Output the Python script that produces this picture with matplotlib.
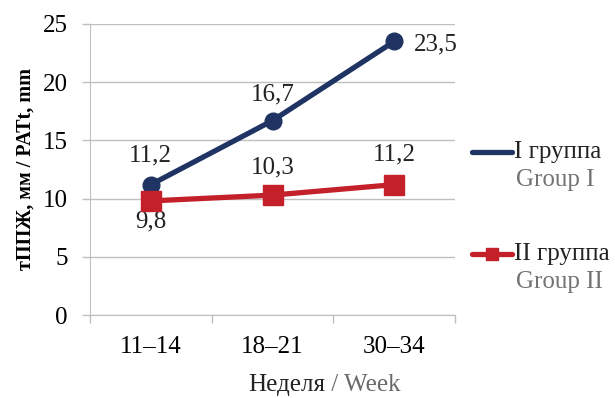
import matplotlib.pyplot as plt
from matplotlib.lines import Line2D

plt.rcParams['font.family'] = ['Liberation Serif', 'DejaVu Serif']

weeks = ["11–14", "18–21", "30–34"]
group1 = [11.2, 16.7, 23.5]
group2 = [9.8, 10.3, 11.2]
labels1 = ["11,2", "16,7", "23,5"]
labels2 = ["9,8", "10,3", "11,2"]

blue = '#1F3462'
red = '#C4202A'
grid = '#BFBFBF'
fs = 18

fig = plt.figure(figsize=(6.15, 3.98), dpi=100)
ax = fig.add_axes([90 / 615, 1 - 315 / 398, 365 / 615, 291 / 398])

x = list(range(len(weeks)))
ax.plot(x, group1, color=blue, lw=3.8, marker='o', ms=12, zorder=3)
ax.plot(x, group2, color=red, lw=3.8, marker='s', ms=14, zorder=4)

# data labels
offs1 = [(0, 21), (0, 19), (30, -2)]
for xi, yi, t, o in zip(x, group1, labels1, offs1):
    ax.annotate(t, (xi, yi), xytext=o, textcoords='offset points',
                ha='center', va='center', fontsize=fs, color='#222222')
offs2 = [(0, -15), (0, 20), (0, 22)]
for xi, yi, t, o in zip(x, group2, labels2, offs2):
    ax.annotate(t, (xi, yi), xytext=o, textcoords='offset points',
                ha='center', va='center', fontsize=fs, color='#222222')

ax.set_xlim(-0.5, 2.5)
ax.set_ylim(0, 25)
ax.set_yticks(range(0, 26, 5))
ax.yaxis.grid(True, color=grid, lw=1)
ax.set_axisbelow(True)
ax.set_xticks([-0.5, 0.5, 1.5, 2.5])
ax.set_xticklabels([])
ax.set_xticks(x, minor=True)
ax.set_xticklabels(weeks, minor=True)
ax.tick_params(axis='x', which='major', length=6, color=grid, width=1)
ax.tick_params(axis='x', which='minor', length=0, pad=15, labelsize=fs)
ax.tick_params(axis='y', length=6, color=grid, width=1, pad=10, labelsize=fs)
for s in ['top', 'right']:
    ax.spines[s].set_visible(False)
ax.spines['left'].set_color(grid)
ax.spines['bottom'].set_color(grid)

ax.set_ylabel("тППЖ, мм / PATt, mm", fontsize=14.5, fontweight='bold')
ax.yaxis.set_label_coords(-0.15, 0.5)

# x axis title in two colours
t = fig.text(248 / 615, 1 - 385 / 398, "Неделя", fontsize=fs, color='#222222',
             ha='left', va='center')
ax.annotate(" / Week", xy=(1, 0), xycoords=t, ha='left', va='bottom',
            fontsize=fs, color='#6A6A6A', annotation_clip=False)

# legend
leg = [(blue, 'o', "I группа", "Group I", 152), (red, 's', "II группа", "Group II", 254)]
for col, m, ru, en, yp in leg:
    fig.add_artist(Line2D([472 / 615, 512 / 615], [1 - yp / 398] * 2, color=col,
                          lw=3.8, solid_capstyle='round', transform=fig.transFigure))
    if m == 's':
        fig.add_artist(Line2D([492 / 615], [1 - yp / 398], color=col, marker='s',
                              ms=9, transform=fig.transFigure))
    fig.text(514 / 615, 1 - yp / 398, ru, fontsize=fs, color='#222222',
             ha='left', va='center')
    fig.text(516 / 615, 1 - (yp + 28) / 398, en, fontsize=fs, color='#737373',
             ha='left', va='center')

fig.savefig('out.png', dpi=100)
